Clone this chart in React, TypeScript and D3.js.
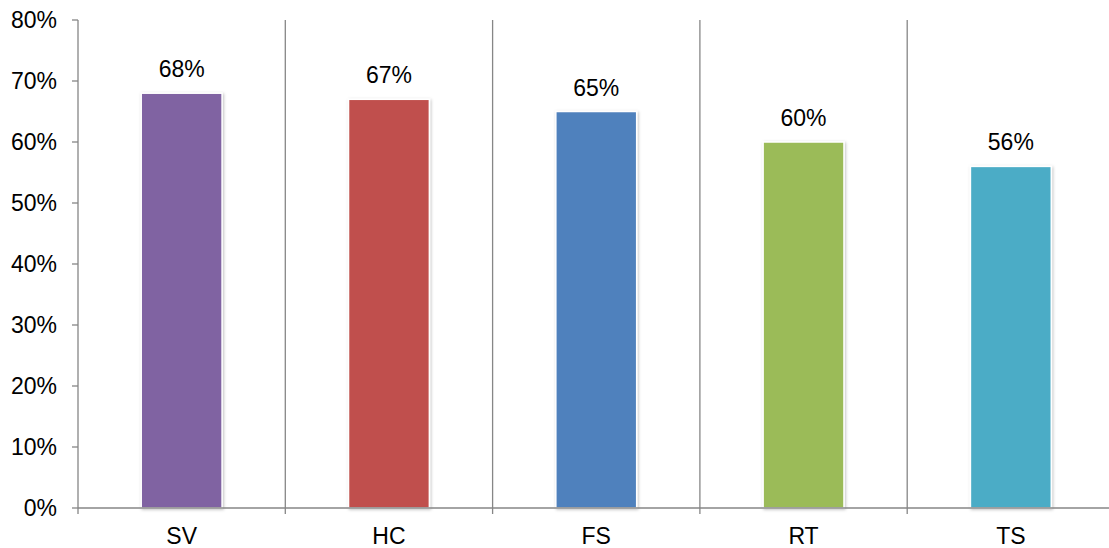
import React from "react";
import * as d3 from "d3";

const categories = ["SV", "HC", "FS", "RT", "TS"];
const values = [0.68, 0.67, 0.65, 0.6, 0.56];
const colors = ["#8064A2", "#C0504D", "#4F81BD", "#9BBB59", "#4BACC6"];
const yTicks = [0, 0.1, 0.2, 0.3, 0.4, 0.5, 0.6, 0.7, 0.8];

const W = 1109;
const H = 548;
const left = 78;
const right = 1114.5;
const top = 20;
const bottom = 508;

export default function App() {
  const x = d3.scaleBand<string>().domain(categories).range([left, right]).paddingInner(0).paddingOuter(0);
  const y = d3.scaleLinear().domain([0, 0.8]).range([bottom, top]);
  const bw = x.bandwidth() * 0.39;
  const fmt = d3.format(".0%");
  const font = "Arial, 'Liberation Sans', sans-serif";
  const grey = "#868686";
  const fs = 23;

  return (
    <svg width={W} height={H} style={{ position: "absolute", left: 0, top: 0, background: "#fff" }}>
      <defs>
        <filter id="sh" x="-20%" y="-20%" width="140%" height="140%">
          <feDropShadow dx="1" dy="1" stdDeviation="1.5" floodColor="#000" floodOpacity="0.25" />
        </filter>
      </defs>
      {categories.map((c, i) => {
        const xx = (x(c) as number) + x.bandwidth();
        return <line key={"g" + i} x1={xx} x2={xx} y1={top} y2={bottom + 6} stroke={grey} strokeWidth={1.3} />;
      })}
      {categories.map((c, i) => {
        const cx = (x(c) as number) + x.bandwidth() / 2;
        return (
          <g key={"b" + i}>
            <rect x={cx - bw / 2} y={y(values[i])} width={bw} height={bottom - y(values[i])} fill={colors[i]} stroke="#fff" strokeWidth={1.5} filter="url(#sh)" />
            <text x={cx} y={y(values[i]) - 16} textAnchor="middle" fontFamily={font} fontSize={fs} fill="#000">
              {fmt(values[i])}
            </text>
          </g>
        );
      })}
      <line x1={left} x2={left} y1={top} y2={bottom} stroke={grey} strokeWidth={1.3} />
      {yTicks.map((t, i) => (
        <g key={"t" + i}>
          <line x1={left - 6} x2={left} y1={y(t)} y2={y(t)} stroke={grey} strokeWidth={1.3} />
          <text x={57} y={y(t) + 8} textAnchor="end" fontFamily={font} fontSize={fs} fill="#000">
            {fmt(t)}
          </text>
        </g>
      ))}
      <line x1={left} x2={W} y1={bottom} y2={bottom} stroke={grey} strokeWidth={1.3} />
      <line x1={left} x2={left} y1={bottom} y2={bottom + 6} stroke={grey} strokeWidth={1.3} />
      {categories.map((c, i) => (
        <text key={"c" + i} x={(x(c) as number) + x.bandwidth() / 2} y={544} textAnchor="middle" fontFamily={font} fontSize={fs} fill="#000">
          {c}
        </text>
      ))}
    </svg>
  );
}
